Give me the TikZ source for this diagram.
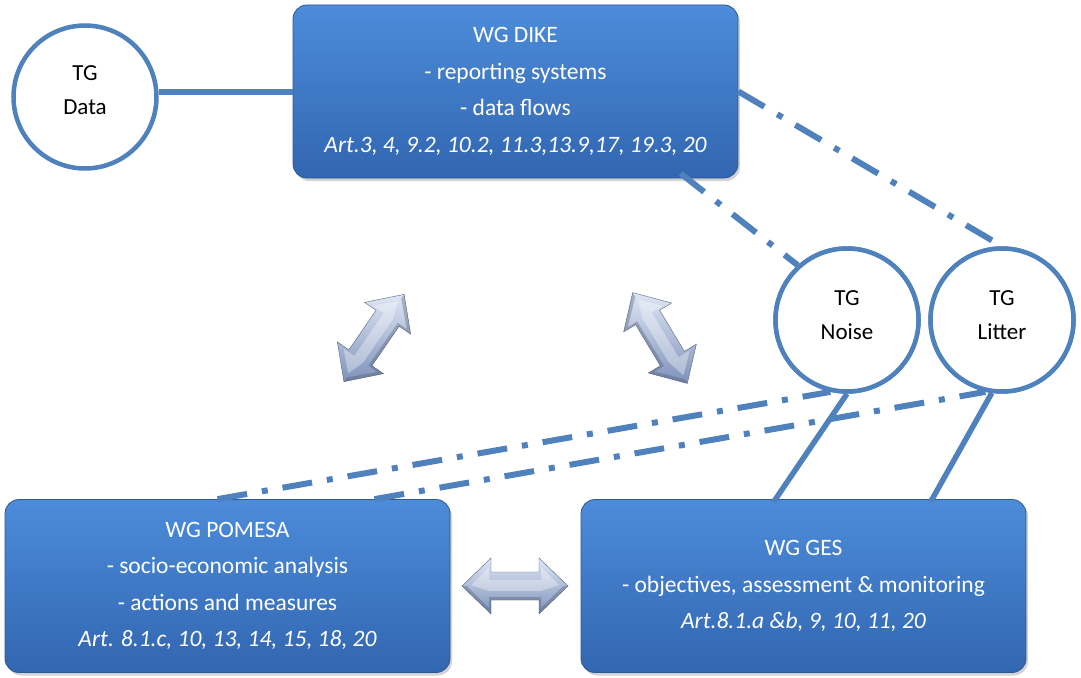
\documentclass[tikz,border=0pt]{standalone}
\usepackage{fontspec}
\setmainfont{Carlito}
\usetikzlibrary{shadows,calc}
\definecolor{lineblue}{RGB}{79,129,189}
\definecolor{boxtop}{RGB}{76,140,218}
\definecolor{boxbot}{RGB}{50,102,176}
\definecolor{boxedge}{RGB}{44,88,150}
\definecolor{arrtop}{RGB}{222,230,244}
\definecolor{arrbot}{RGB}{126,146,186}
\tikzset{
  wgbox/.style={rounded corners=14pt, draw=boxedge, line width=0.8pt,
    top color=boxtop, bottom color=boxbot, text=white, align=center,
    minimum width=445pt, minimum height=173pt, inner sep=0pt,
    font=\fontsize{23.5}{36.5}\selectfont,
    drop shadow={opacity=0.35, shadow xshift=2pt, shadow yshift=-3pt}},
  tgcircle/.style={circle, draw=lineblue, line width=4.5pt, fill=white,
    minimum size=143pt, inner sep=0pt},
  tgtext/.style={align=center, font=\fontsize{23}{34}\selectfont, inner sep=0pt},
  solidlink/.style={draw=lineblue, line width=5.5pt},
  dashlink/.style={draw=lineblue, line width=6pt,
    dash pattern=on 30pt off 15pt on 6pt off 15pt},
  arrbody/.style={draw=arrbot!70!black, line width=0.4pt,
    top color=arrtop, bottom color=arrbot},
  arrshine/.style={fill=white, opacity=0.35}
}
\newcommand{\fatarrow}[3]{%
  \begin{scope}[shift={#1}, rotate=#2, scale=#3]
    \path[arrbody] (-53,0) -- (-24,-28) -- (-24,-14) -- (24,-14) -- (24,-28)
      -- (53,0) -- (24,28) -- (24,14) -- (-24,14) -- (-24,28) -- cycle;
    \path[arrshine] (-44,-1) -- (-26,-19) -- (-26,-6) -- (26,-6) -- (26,-19)
      -- (44,-1) -- (26,5) -- (-26,5) -- cycle;
    \path[fill=arrbot!60!black, opacity=0.35] (-24,14) -- (24,14) -- (24,28)
      -- (53,0) -- (48,0) -- (26,22) -- (26,11) -- (-26,11) -- (-26,22) -- (-48,0) -- (-53,0) -- (-24,28) -- cycle;
  \end{scope}}
\begin{document}
\begin{tikzpicture}[x=1pt,y=-1pt]
\useasboundingbox (0,0) rectangle (1081,677);
\node[tgcircle, label={[tgtext, yshift=7pt]center:TG\\Data}] (data) at (85,97) {};
\node[tgcircle] (noise) at (847,320) {};
\node[tgcircle] (litter) at (1002,320) {};
\node[wgbox] (dike) at (515.5,91.5) {WG DIKE\\- reporting systems\\- data flows\\\textit{Art.3, 4, 9.2, 10.2, 11.3,13.9,17, 19.3, 20}};
\node[wgbox] (pomesa) at (227.5,586) {WG POMESA\\- socio-economic analysis\\- actions and measures\\\textit{Art. 8.1.c, 10, 13, 14, 15, 18, 20}};
\node[wgbox] (ges) at (803.5,586) {\raisebox{0pt}{WG GES}\\- objectives, assessment \& monitoring\\\textit{Art.8.1.a \&b, 9, 10, 11, 20}};
% connectors
\draw[solidlink] (data.east |- 0,92) -- (dike.west |- 0,92);
\draw[dashlink] ([xshift=165pt,yshift=5pt]dike.south) -- (noise.132);
\draw[dashlink] (dike.east) -- (litter.north);
\draw[dashlink] ([xshift=-10pt]pomesa.north) -- (noise.257);
\draw[dashlink] ([xshift=147pt]pomesa.north) -- (litter.257);
\draw[solidlink] ([xshift=-30pt,yshift=-3pt]ges.north) -- (noise.south);
\draw[solidlink] ([xshift=127pt,yshift=-3pt]ges.north) -- (litter.262);
% circles on top of the connectors
\node[tgcircle, label={[tgtext, yshift=5pt]center:TG\\Noise}] at (noise) {};
\node[tgcircle, label={[tgtext, yshift=5pt]center:TG\\Litter}] at (litter) {};
% 3D double arrows
\fatarrow{(374,338)}{55.4}{1}
\fatarrow{(660,338)}{-59}{1}
\fatarrow{(515,586)}{0}{1}
\end{tikzpicture}
\end{document}
